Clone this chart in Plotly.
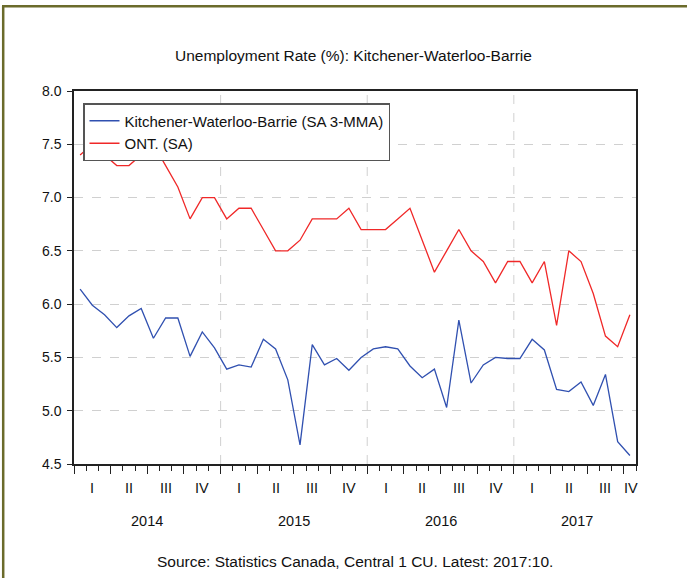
import pandas as pd
import plotly.graph_objects as go

# ---- data ----
months = [str(p) for p in pd.period_range("2014-01", "2017-10", freq="M")]
kwb = [6.14, 5.99, 5.90, 5.78, 5.89, 5.96, 5.68, 5.87, 5.87, 5.51,
       5.74, 5.59, 5.39, 5.43, 5.41, 5.67, 5.58, 5.29, 4.68, 5.62,
       5.43, 5.49, 5.38, 5.50, 5.58, 5.60, 5.58, 5.42, 5.31, 5.39,
       5.03, 5.85, 5.26, 5.43, 5.50, 5.49, 5.49, 5.67, 5.57, 5.20,
       5.18, 5.27, 5.05, 5.34, 4.71, 4.58]
ont = [7.4, 7.5, 7.4, 7.3, 7.3, 7.4, 7.5, 7.3, 7.1, 6.8,
       7.0, 7.0, 6.8, 6.9, 6.9, 6.7, 6.5, 6.5, 6.6, 6.8,
       6.8, 6.8, 6.9, 6.7, 6.7, 6.7, 6.8, 6.9, 6.6, 6.3,
       6.5, 6.7, 6.5, 6.4, 6.2, 6.4, 6.4, 6.2, 6.4, 5.8,
       6.5, 6.4, 6.1, 5.7, 5.6, 5.9]
years = ["2014", "2015", "2016", "2017"]
quarters = ["I", "II", "III", "IV"]
series_names = ["Kitchener-Waterloo-Barrie (SA 3-MMA)", "ONT. (SA)"]
title_text = "Unemployment Rate (%): Kitchener-Waterloo-Barrie"
source_text = "Source: Statistics Canada, Central 1 CU. Latest: 2017:10."

# ---- positions (month index, mid-month) ----
n = len(months)
xpos = [i + 0.5 for i in range(n)]

FONT = "Liberation Sans, Arial, sans-serif"
W, H = 687, 578
L, R, T, B = 74, 687 - 636, 91, 578 - 464
pw, ph = W - L - R, H - T - B

def px_x(p):
    return (p - L) / pw

def px_y(p):
    return 1 - (p - T) / ph

fig = go.Figure()
fig.add_trace(go.Scatter(x=xpos, y=kwb, mode="lines", name=series_names[0],
                         line=dict(color="#3050b0", width=1.3)))
fig.add_trace(go.Scatter(x=xpos, y=ont, mode="lines", name=series_names[1],
                         line=dict(color="#f02828", width=1.3)))

annotations = []
shapes = []
# quarter and year labels
for yi, yr in enumerate(years):
    start = yi * 12
    end = min(start + 12, n)
    for qi, q in enumerate(quarters):
        qs = start + qi * 3
        if qs >= n:
            continue
        qe = min(qs + 3, n)
        center = (qs + qe) / 2
        if qe - qs < 3:
            center = qs + 0.6
        annotations.append(dict(x=center, y=px_y(488), xref="x", yref="paper",
                                text=q, showarrow=False, xanchor="center", yanchor="middle",
                                font=dict(family=FONT, size=14.5, color="#111")))
    ycenter = (start + end) / 2
    if end - start < 12:
        ycenter += 0.2
    annotations.append(dict(x=ycenter, y=px_y(521), xref="x", yref="paper",
                            text=yr, showarrow=False, xanchor="center", yanchor="middle",
                            font=dict(family=FONT, size=14.5, color="#111")))
    if yi > 0:
        shapes.append(dict(type="line", xref="x", yref="paper", x0=start, x1=start,
                           y0=0, y1=1, layer="below",
                           line=dict(color="#d0d0d0", width=1, dash="dash")))

annotations.append(dict(x=px_x(355), y=px_y(561), xref="paper", yref="paper",
                        text=source_text, showarrow=False, xanchor="center", yanchor="middle",
                        font=dict(family=FONT, size=15.5, color="#111")))
annotations.append(dict(x=px_x(353), y=px_y(56), xref="paper", yref="paper",
                        text=title_text, showarrow=False, xanchor="center", yanchor="middle",
                        font=dict(family=FONT, size=15.5, color="#111")))

# outer olive frame (left and top edges)
frame_col = "#6b6b2b"
shapes.append(dict(type="line", xref="paper", yref="paper",
                   x0=px_x(3.2), x1=px_x(3.2), y0=px_y(6), y1=px_y(600),
                   line=dict(color=frame_col, width=2.5)))
shapes.append(dict(type="line", xref="paper", yref="paper",
                   x0=px_x(2), x1=px_x(700), y0=px_y(6.2), y1=px_y(6.2),
                   line=dict(color=frame_col, width=2.5)))

fig.update_layout(
    width=W, height=H,
    margin=dict(l=L, r=R, t=T, b=B, pad=0),
    paper_bgcolor="white", plot_bgcolor="white",
    font=dict(family=FONT, size=14, color="#111"),
    showlegend=True,
    legend=dict(x=px_x(83), y=px_y(103), xanchor="left", yanchor="top",
                bgcolor="white", bordercolor="#555", borderwidth=1.5,
                font=dict(family=FONT, size=15, color="#111"),
                itemwidth=30, tracegroupgap=0),
    annotations=annotations,
    shapes=shapes,
)
fig.update_xaxes(range=[0, n], tick0=0, dtick=3, ticks="outside", ticklen=8,
                 tickwidth=1.3, tickcolor="#222", showticklabels=False,
                 showgrid=False, zeroline=False, showline=True, linecolor="#222",
                 linewidth=1.5, mirror=True,
                 minor=dict(dtick=1, tick0=0, ticks="outside", ticklen=5,
                            tickwidth=1.2, tickcolor="#222", showgrid=False))
fig.update_yaxes(range=[4.5, 8.0], dtick=0.5, tick0=4.5, tickformat=".1f",
                 ticks="outside", ticklen=5, tickcolor="#222", tickwidth=1.3,
                 ticklabelstandoff=3,
                 showgrid=True, gridcolor="#d0d0d0", griddash="dash", gridwidth=1,
                 zeroline=False, showline=True, linecolor="#222", linewidth=1.5,
                 mirror=True, tickfont=dict(family=FONT, size=14, color="#111"))

fig.write_html("out.html", config={"displayModeBar": False},
               post_script="document.body.style.margin='0';")
